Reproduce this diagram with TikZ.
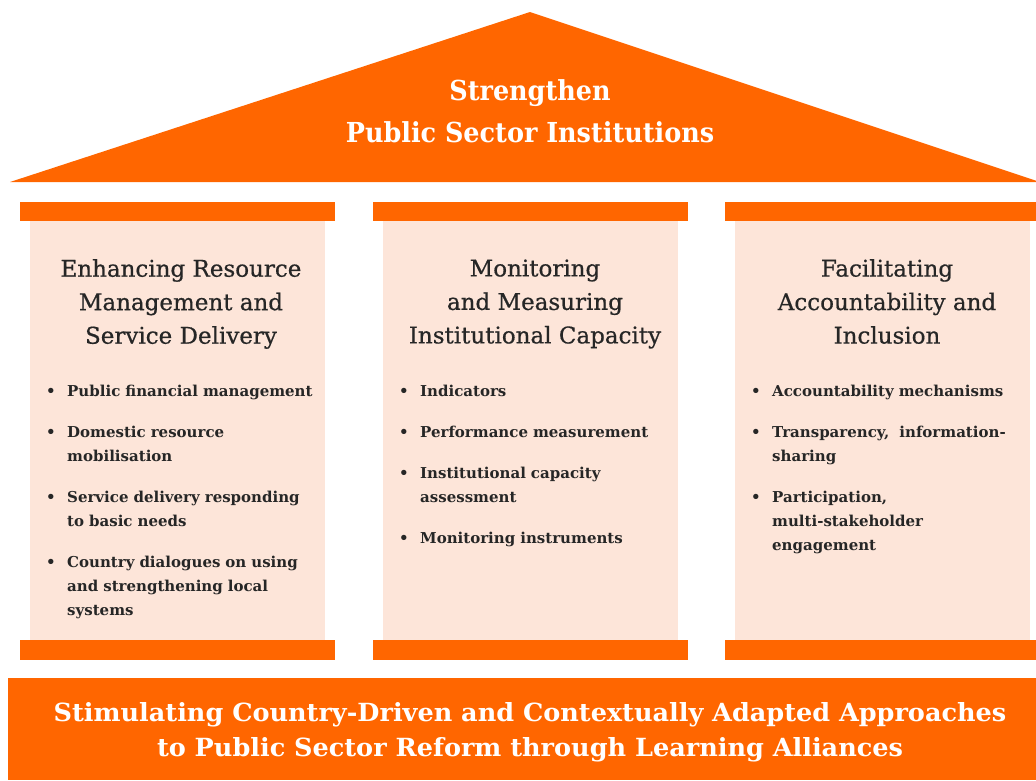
\documentclass[tikz,border=0pt]{standalone}
\usepackage{fontspec}
\setmainfont{DejaVu Serif}
\newfontfamily\headfont[FakeBold=0.6]{DejaVu Serif}
\newfontfamily\rooffont[FakeStretch=1.03]{DejaVu Serif Condensed}
\newfontfamily\basefont[FakeStretch=1.135]{DejaVu Serif Condensed}
\definecolor{orng}{HTML}{FF6600}
\definecolor{peach}{HTML}{FDE5D9}
\definecolor{ink}{HTML}{262626}
\newcommand{\bitem}[1]{\par\hangindent=21pt\hangafter=1\noindent\makebox[21pt][l]{\textbullet}#1\par\vspace{17pt}}
\tikzset{
  capbar/.style={fill=orng, draw=none},
  colbody/.style={fill=peach, draw=none},
  heading/.style={align=center, text=ink, font=\headfont\fontsize{23}{33.5}\selectfont, inner sep=0pt},
  blist/.style={anchor=north west, text width=272pt, text=ink, font=\bfseries\fontsize{15}{24}\selectfont, inner sep=0pt},
  white title/.style={align=center, text=white, inner sep=0pt}
}
\begin{document}
\begin{tikzpicture}[x=1pt,y=-1pt]
\useasboundingbox (0,0) rectangle (1036,780);
% roof
\path[fill=orng] (530,12) coordinate (apex) -- (1040,182) coordinate (roofR) -- (10,182) coordinate (roofL) -- cycle;
\node[white title, font=\rooffont\bfseries\fontsize{27.5}{42}\selectfont] (roof) at (530,111) {Strengthen\\Public Sector Institutions};
% columns
\foreach \i/\x in {1/20, 2/373, 3/725} {
  \path[colbody] (\x+10,221) rectangle (\x+305,640);
  \path[capbar] (\x,202) rectangle (\x+315,221);
  \path[capbar] (\x,640) rectangle (\x+315,660);
}
\node[heading] (h1) at (181,304) {Enhancing Resource\\Management and\\Service Delivery};
\node[heading] (h2) at (535,304) {Monitoring\\and Measuring\\Institutional Capacity};
\node[heading] (h3) at (887,301.5) {Facilitating\\Accountability and\\Inclusion};
\node[blist] (l1) at (46,372) {\bitem{Public financial management}\bitem{Domestic resource\newline mobilisation}\bitem{Service delivery responding\newline to basic needs}\bitem{Country dialogues on using\newline and strengthening local\newline systems}};
\node[blist] (l2) at (399,372) {\bitem{Indicators}\bitem{Performance measurement}\bitem{Institutional capacity\newline assessment}\bitem{Monitoring instruments}};
\node[blist] (l3) at (751,372) {\bitem{Accountability mechanisms}\bitem{Transparency,\ \ information-\newline sharing}\bitem{Participation,\newline multi-stakeholder\newline engagement}};
% base
\path[capbar] (8,678) rectangle (1040,780);
\node[white title, font=\basefont\bfseries\fontsize{25}{35}\selectfont] (base) at (530,732) {Stimulating Country-Driven and Contextually Adapted Approaches\\to Public Sector Reform through Learning Alliances};
\end{tikzpicture}
\end{document}
